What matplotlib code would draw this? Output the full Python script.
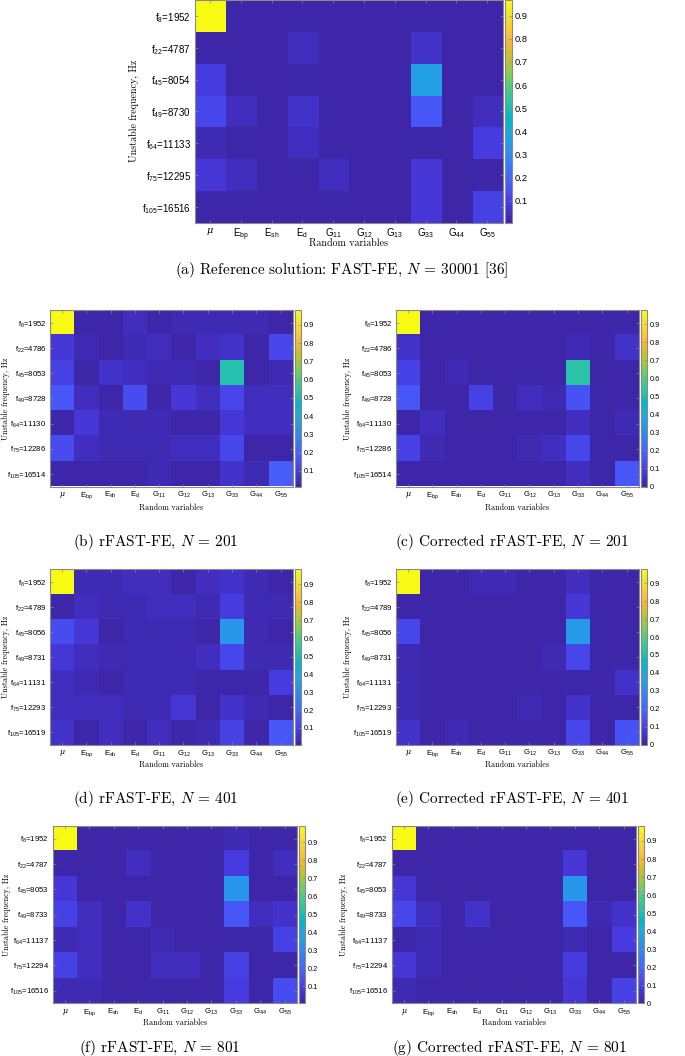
import numpy as np
import matplotlib
matplotlib.use("Agg")
import matplotlib.pyplot as plt
from matplotlib.colors import ListedColormap

plt.rcParams['mathtext.default'] = 'regular'
plt.rcParams['font.family'] = ['Liberation Sans', 'DejaVu Sans']

W, H = 685, 1056

# ---------------- data ----------------
variables = ["μ", r"E$_{bp}$", r"E$_{sh}$", r"E$_{d}$", r"G$_{11}$", r"G$_{12}$",
             r"G$_{13}$", r"G$_{33}$", r"G$_{44}$", r"G$_{55}$"]
modes = [8, 22, 45, 49, 64, 75, 105]
freqs_a = [1952, 4787, 8054, 8730, 11133, 12295, 16516]
freqs_201 = [1952, 4786, 8053, 8728, 11130, 12286, 16514]
freqs_401 = [1952, 4789, 8056, 8731, 11131, 12293, 16519]
freqs_801 = [1952, 4787, 8053, 8733, 11137, 12294, 16516]

# rows: modes (top to bottom), columns: variables
S_ref = [
    [0.968, 0.010, 0.010, 0.010, 0.010, 0.010, 0.010, 0.010, 0.010, 0.010],
    [0.010, 0.010, 0.010, 0.040, 0.010, 0.010, 0.010, 0.060, 0.010, 0.010],
    [0.090, 0.010, 0.010, 0.010, 0.010, 0.010, 0.010, 0.360, 0.010, 0.010],
    [0.120, 0.040, 0.010, 0.060, 0.010, 0.010, 0.010, 0.170, 0.010, 0.040],
    [0.030, 0.020, 0.010, 0.040, 0.010, 0.010, 0.010, 0.010, 0.010, 0.090],
    [0.080, 0.050, 0.010, 0.010, 0.040, 0.010, 0.010, 0.070, 0.010, 0.010],
    [0.010, 0.010, 0.010, 0.010, 0.010, 0.010, 0.005, 0.070, 0.010, 0.110],
]
S_r201 = [
    [0.980, 0.030, 0.020, 0.060, 0.020, 0.040, 0.040, 0.040, 0.040, 0.020],
    [0.090, 0.040, 0.020, 0.040, 0.060, 0.020, 0.060, 0.070, 0.020, 0.130],
    [0.120, 0.030, 0.070, 0.050, 0.040, 0.040, 0.030, 0.520, 0.020, 0.040],
    [0.170, 0.050, 0.015, 0.150, 0.015, 0.090, 0.060, 0.130, 0.050, 0.050],
    [0.030, 0.080, 0.040, 0.040, 0.040, 0.020, 0.030, 0.090, 0.050, 0.050],
    [0.140, 0.060, 0.040, 0.040, 0.040, 0.060, 0.060, 0.130, 0.030, 0.030],
    [0.030, 0.020, 0.018, 0.030, 0.040, 0.030, 0.020, 0.070, 0.040, 0.190],
]
S_c201 = [
    [0.978, 0.000, 0.000, 0.000, 0.000, 0.000, 0.000, 0.000, 0.000, 0.000],
    [0.050, 0.000, 0.000, 0.000, 0.000, 0.000, 0.000, 0.020, 0.000, 0.050],
    [0.100, 0.000, 0.020, 0.000, 0.000, 0.000, 0.000, 0.520, 0.000, 0.010],
    [0.160, 0.000, 0.000, 0.100, 0.000, 0.040, 0.030, 0.140, 0.000, 0.010],
    [0.000, 0.040, 0.000, 0.000, 0.000, 0.000, 0.000, 0.040, 0.000, 0.020],
    [0.100, 0.030, 0.000, 0.000, 0.000, 0.020, 0.040, 0.120, 0.000, 0.000],
    [0.000, 0.000, 0.000, 0.000, 0.000, 0.000, 0.000, 0.040, 0.000, 0.160],
]
S_r401 = [
    [0.984, 0.030, 0.030, 0.050, 0.050, 0.020, 0.040, 0.060, 0.030, 0.020],
    [0.010, 0.040, 0.030, 0.030, 0.050, 0.040, 0.030, 0.090, 0.030, 0.030],
    [0.140, 0.070, 0.020, 0.030, 0.030, 0.030, 0.010, 0.330, 0.030, 0.020],
    [0.080, 0.040, 0.030, 0.030, 0.030, 0.030, 0.050, 0.120, 0.030, 0.030],
    [0.050, 0.030, 0.020, 0.030, 0.030, 0.030, 0.020, 0.020, 0.020, 0.090],
    [0.040, 0.040, 0.050, 0.030, 0.030, 0.070, 0.020, 0.060, 0.030, 0.020],
    [0.060, 0.010, 0.050, 0.020, 0.040, 0.020, 0.030, 0.110, 0.005, 0.170],
]
S_c401 = [
    [0.978, 0.000, 0.000, 0.030, 0.030, 0.000, 0.000, 0.040, 0.000, 0.000],
    [0.000, 0.000, 0.000, 0.000, 0.015, 0.000, 0.000, 0.070, 0.000, 0.000],
    [0.110, 0.000, 0.000, 0.000, 0.000, 0.000, 0.000, 0.350, 0.000, 0.000],
    [0.030, 0.000, 0.000, 0.000, 0.000, 0.000, 0.030, 0.110, 0.000, 0.000],
    [0.030, 0.000, 0.000, 0.000, 0.000, 0.000, 0.000, 0.000, 0.000, 0.060],
    [0.020, 0.000, 0.015, 0.000, 0.000, 0.020, 0.000, 0.050, 0.000, 0.000],
    [0.060, 0.000, 0.020, 0.000, 0.000, 0.000, 0.000, 0.120, 0.000, 0.150],
]
S_r801 = [
    [0.989, 0.020, 0.020, 0.020, 0.020, 0.020, 0.020, 0.030, 0.020, 0.020],
    [0.020, 0.020, 0.020, 0.050, 0.020, 0.020, 0.020, 0.090, 0.020, 0.050],
    [0.070, 0.020, 0.020, 0.020, 0.020, 0.020, 0.020, 0.330, 0.020, 0.020],
    [0.100, 0.050, 0.020, 0.060, 0.020, 0.020, 0.020, 0.170, 0.040, 0.060],
    [0.030, 0.040, 0.020, 0.020, 0.030, 0.020, 0.020, 0.020, 0.020, 0.110],
    [0.100, 0.040, 0.020, 0.020, 0.040, 0.040, 0.020, 0.110, 0.020, 0.005],
    [0.030, 0.030, 0.020, 0.020, 0.020, 0.020, 0.020, 0.090, 0.020, 0.130],
]
S_c801 = [
    [0.983, 0.000, 0.000, 0.000, 0.000, 0.000, 0.000, 0.000, 0.000, 0.000],
    [0.000, 0.000, 0.000, 0.000, 0.000, 0.000, 0.000, 0.070, 0.000, 0.000],
    [0.070, 0.000, 0.000, 0.000, 0.000, 0.000, 0.000, 0.330, 0.000, 0.000],
    [0.110, 0.040, 0.000, 0.050, 0.000, 0.000, 0.000, 0.160, 0.020, 0.050],
    [0.010, 0.020, 0.000, 0.000, 0.000, 0.000, 0.000, 0.020, 0.010, 0.090],
    [0.070, 0.030, 0.000, 0.000, 0.000, 0.000, 0.000, 0.090, 0.000, 0.000],
    [0.020, 0.010, 0.000, 0.000, 0.000, 0.000, 0.000, 0.070, 0.000, 0.100],
]

captions = [
    r"(a) Reference solution: FAST-FE, $\mathit{N}$ = 30001 [36]",
    r"(b) rFAST-FE, $\mathit{N}$ = 201",
    r"(c) Corrected rFAST-FE, $\mathit{N}$ = 201",
    r"(d) rFAST-FE, $\mathit{N}$ = 401",
    r"(e) Corrected rFAST-FE, $\mathit{N}$ = 401",
    r"(f) rFAST-FE, $\mathit{N}$ = 801",
    r"(g) Corrected rFAST-FE, $\mathit{N}$ = 801",
]

# ---------------- colormap (MATLAB parula, R2014b) ----------------
parula_rgb = [
    [0.2422, 0.1504, 0.6603], [0.2504, 0.1650, 0.7076], [0.2578, 0.1818, 0.7511],
    [0.2647, 0.1978, 0.7952], [0.2706, 0.2147, 0.8364], [0.2751, 0.2342, 0.8710],
    [0.2783, 0.2559, 0.8991], [0.2803, 0.2782, 0.9221], [0.2813, 0.3006, 0.9414],
    [0.2810, 0.3228, 0.9579], [0.2795, 0.3447, 0.9717], [0.2760, 0.3667, 0.9829],
    [0.2699, 0.3892, 0.9906], [0.2602, 0.4123, 0.9952], [0.2440, 0.4358, 0.9988],
    [0.2206, 0.4603, 0.9973], [0.1963, 0.4847, 0.9892], [0.1834, 0.5074, 0.9798],
    [0.1786, 0.5289, 0.9682], [0.1764, 0.5499, 0.9520], [0.1687, 0.5703, 0.9359],
    [0.1540, 0.5902, 0.9218], [0.1460, 0.6091, 0.9079], [0.1380, 0.6276, 0.8973],
    [0.1248, 0.6459, 0.8883], [0.1113, 0.6635, 0.8763], [0.0952, 0.6798, 0.8598],
    [0.0689, 0.6948, 0.8394], [0.0297, 0.7082, 0.8163], [0.0036, 0.7203, 0.7917],
    [0.0067, 0.7312, 0.7660], [0.0433, 0.7411, 0.7394], [0.0964, 0.7500, 0.7120],
    [0.1408, 0.7584, 0.6842], [0.1717, 0.7670, 0.6554], [0.1938, 0.7758, 0.6251],
    [0.2161, 0.7843, 0.5923], [0.2470, 0.7918, 0.5567], [0.2906, 0.7973, 0.5188],
    [0.3406, 0.8008, 0.4789], [0.3909, 0.8029, 0.4354], [0.4456, 0.8024, 0.3909],
    [0.5044, 0.7993, 0.3480], [0.5616, 0.7942, 0.3045], [0.6174, 0.7876, 0.2612],
    [0.6720, 0.7793, 0.2227], [0.7242, 0.7698, 0.1910], [0.7738, 0.7598, 0.1646],
    [0.8203, 0.7498, 0.1535], [0.8634, 0.7406, 0.1596], [0.9035, 0.7330, 0.1774],
    [0.9393, 0.7288, 0.2100], [0.9728, 0.7298, 0.2394], [0.9956, 0.7434, 0.2371],
    [0.9970, 0.7659, 0.2199], [0.9952, 0.7893, 0.2028], [0.9892, 0.8136, 0.1885],
    [0.9786, 0.8386, 0.1766], [0.9676, 0.8639, 0.1643], [0.9610, 0.8890, 0.1537],
    [0.9597, 0.9135, 0.1423], [0.9628, 0.9373, 0.1265], [0.9691, 0.9606, 0.1064],
    [0.9769, 0.9839, 0.0805],
]
parula = ListedColormap(parula_rgb, name="parula")

# ---------------- layout (pixel boxes: x0, y0, x1, y1 from top-left) ----------------
panels = [
    dict(S=S_ref, f=freqs_a, ax=(194.5, 0, 502.7, 222.7), cb=(505.5, 0, 511.5, 222.7),
         cap=(342, 270), xl=243, yl=134, fs_t=7.0, fs_l=7.2, fs_c=11.0),
    dict(S=S_r201, f=freqs_201, ax=(50, 310.3, 292.7, 486.5), cb=(295, 310.3, 301, 486.5),
         cap=(156, 542.5), xl=508, yl=6, fs_t=5.6, fs_l=5.8, fs_c=11.0),
    dict(S=S_c201, f=freqs_201, ax=(396, 310.3, 638.7, 486.5), cb=(641, 310.3, 647, 486.5),
         cap=(512, 542.5), xl=508, yl=348, fs_t=5.6, fs_l=5.8, fs_c=11.0),
    dict(S=S_r401, f=freqs_401, ax=(50, 569.3, 292.7, 745), cb=(295, 569.3, 301, 745),
         cap=(156, 799), xl=765, yl=6, fs_t=5.6, fs_l=5.8, fs_c=11.0),
    dict(S=S_c401, f=freqs_401, ax=(396, 569.3, 638.7, 744.5), cb=(641, 569.3, 647, 744.5),
         cap=(512, 799), xl=765, yl=348, fs_t=5.6, fs_l=5.8, fs_c=11.0),
    dict(S=S_r801, f=freqs_801, ax=(52.7, 826, 296.7, 1003.3), cb=(298.5, 826, 304.5, 1003.3),
         cap=(160, 1047.7), xl=1023, yl=7, fs_t=5.6, fs_l=5.8, fs_c=11.0),
    dict(S=S_c801, f=freqs_801, ax=(391.7, 826, 635.7, 1003.3), cb=(637.5, 826, 643.5, 1003.3),
         cap=(509, 1047.7), xl=1023, yl=344, fs_t=5.6, fs_l=5.8, fs_c=11.0),
]

EDGE = "#8a8a8a"

fig = plt.figure(figsize=(W / 100, H / 100), dpi=100)


def rect(box):
    x0, y0, x1, y1 = box
    return [x0 / W, 1 - y1 / H, (x1 - x0) / W, (y1 - y0) / H]


for p, cap in zip(panels, captions):
    data = np.array(p["S"])
    ax = fig.add_axes(rect(p["ax"]))
    im = ax.imshow(data, cmap=parula, aspect="auto", interpolation="nearest",
                   extent=[0.5, len(variables) + 0.5, len(modes) + 0.5, 0.5],
                   vmin=data.min(), vmax=data.max())
    ax.set_xticks(np.arange(1, len(variables) + 1))
    ax.set_xticklabels(variables, fontsize=p["fs_t"])
    xt = ax.get_xticklabels()
    xt[0].set_fontfamily("DejaVu Serif")
    xt[0].set_fontstyle("italic")
    ylabels = [r"f$_{%d}$=%d" % (m, f) for m, f in zip(modes, p["f"])]
    ax.set_yticks(np.arange(1, len(modes) + 1))
    ax.set_yticklabels(ylabels, fontsize=p["fs_t"])
    ax.tick_params(direction="in", length=2.2, width=0.5, color=EDGE, pad=2.5,
                   top=True, right=True)
    for s in ax.spines.values():
        s.set_color(EDGE)
        s.set_linewidth(0.8)

    # axis labels (serif)
    axx0, axy0, axx1, axy1 = p["ax"]
    fig.text((axx0 + axx1) / 2 / W, 1 - p["xl"] / H, "Random variables",
             family="cmr10", fontsize=p["fs_l"], ha="center", va="center")
    fig.text(p["yl"] / W, 1 - (axy0 + axy1) / 2 / H, "Unstable frequency, Hz",
             family="cmr10", fontsize=p["fs_l"], ha="center", va="center",
             rotation=90)

    # colorbar
    cax = fig.add_axes(rect(p["cb"]))
    cb = fig.colorbar(im, cax=cax)
    ticks = [t for t in np.round(np.arange(0, 1.0, 0.1), 1)
             if data.min() - 1e-9 <= t <= data.max()]
    cb.set_ticks(ticks)
    cb.set_ticklabels([("%g" % t) for t in ticks])
    cax.tick_params(direction="in", length=2.0, width=0.5, color=EDGE,
                    labelsize=p["fs_t"] * 0.95, pad=2)
    cb.outline.set_edgecolor(EDGE)
    cb.outline.set_linewidth(0.8)

    # caption
    t = fig.text(p["cap"][0] / W, 1 - p["cap"][1] / H, cap, family="cmr10",
                 fontsize=p["fs_c"], ha="center", va="center")
    t.set_math_fontfamily("cm")

fig.savefig("out.png", dpi=100)
